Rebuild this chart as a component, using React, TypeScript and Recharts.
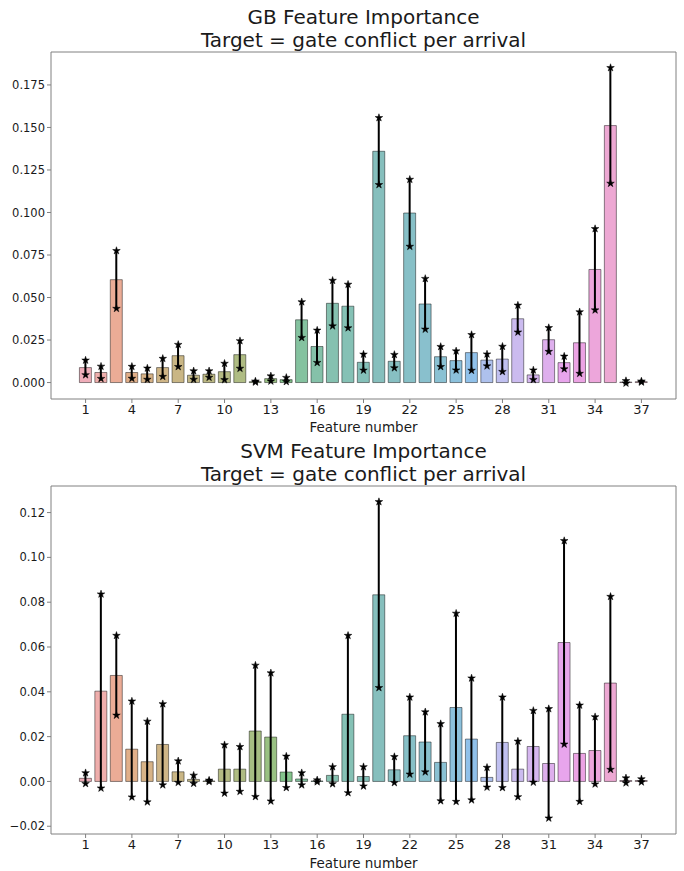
import React from 'react';
import {
  ComposedChart,
  Bar,
  Cell,
  ErrorBar,
  Scatter,
  XAxis,
  YAxis,
  ReferenceArea,
  Label,
  Symbols,
} from 'recharts';

// ---------------- data ----------------
const features = [
  1, 2, 3, 4, 5, 6, 7, 8, 9, 10, 11, 12, 13, 14, 15, 16, 17, 18, 19, 20, 21,
  22, 23, 24, 25, 26, 27, 28, 29, 30, 31, 32, 33, 34, 35, 36, 37,
];
const xTicks = [1, 4, 7, 10, 13, 16, 19, 22, 25, 28, 31, 34, 37];

const gbMean = [
  0.0088, 0.0059, 0.0605, 0.0059, 0.0051, 0.0088, 0.0158, 0.0043, 0.0049,
  0.0064, 0.0164, 0.0005, 0.0023, 0.0017, 0.0369, 0.0212, 0.0466, 0.0449,
  0.0119, 0.136, 0.0125, 0.0997, 0.0462, 0.0152, 0.0129, 0.0176, 0.0132,
  0.0138, 0.0375, 0.0045, 0.0252, 0.0117, 0.0234, 0.0665, 0.1511, 0.0003,
  0.0005,
];
const gbStd = [
  0.0043, 0.0036, 0.017, 0.0035, 0.0033, 0.0053, 0.0065, 0.0025, 0.0019,
  0.0048, 0.0081, 0.0003, 0.0015, 0.0012, 0.0105, 0.0095, 0.0134, 0.0128,
  0.0047, 0.0197, 0.0039, 0.0197, 0.0149, 0.0059, 0.0056, 0.0105, 0.0035,
  0.0074, 0.0079, 0.0028, 0.007, 0.0037, 0.0181, 0.0239, 0.034, 0.0007,
  0.0003,
];
const gbTicks = [0, 0.025, 0.05, 0.075, 0.1, 0.125, 0.15, 0.175];

const svmMean = [
  0.0014, 0.0403, 0.0473, 0.0144, 0.0088, 0.0165, 0.0043, 0.0009, 0.0002,
  0.0055, 0.0055, 0.0225, 0.0198, 0.0042, 0.0011, 0.0002, 0.0027, 0.03,
  0.0022, 0.0833, 0.0052, 0.0204, 0.0176, 0.0085, 0.033, 0.0189, 0.0018,
  0.0174, 0.0055, 0.0156, 0.008, 0.062, 0.0125, 0.0138, 0.0439, 0.0004,
  0.0004,
];
const svmStd = [
  0.0024, 0.0433, 0.0178, 0.0214, 0.018, 0.0181, 0.0048, 0.0018, 0.0003,
  0.0108, 0.01, 0.0293, 0.0286, 0.007, 0.0027, 0.0004, 0.0038, 0.0351,
  0.0043, 0.0415, 0.0058, 0.0172, 0.0134, 0.0172, 0.042, 0.0272, 0.0044,
  0.0202, 0.0124, 0.016, 0.0244, 0.0454, 0.0215, 0.015, 0.0386, 0.0011,
  0.0007,
];
const svmTicks = [-0.02, 0, 0.02, 0.04, 0.06, 0.08, 0.1, 0.12];

// ---------------- colour helpers (husl palette, desaturated) ----------------
const HM = [
  [3.240969941904521, -1.537383177570093, -0.498610760293],
  [-0.96924363628087, 1.87596750150772, 0.041555057407175],
  [0.055630079696993, -0.20397695888897, 1.056971514242878],
];
const refU = 0.19783000664283;
const refV = 0.46831999493879;
const kappa = 903.2962962;
const epsilon = 0.0088564516;

function maxChroma(L: number, H: number) {
  const sub1 = Math.pow(L + 16, 3) / 1560896;
  const sub2 = sub1 > epsilon ? sub1 : L / kappa;
  const hrad = (H / 360) * Math.PI * 2;
  let min = Infinity;
  for (let c = 0; c < 3; c++) {
    const [m1, m2, m3] = HM[c];
    for (let t = 0; t < 2; t++) {
      const top1 = (284517 * m1 - 94839 * m3) * sub2;
      const top2 =
        (838422 * m3 + 769860 * m2 + 731718 * m1) * L * sub2 - 769860 * t * L;
      const bottom = (632260 * m3 - 126452 * m2) * sub2 + 126452 * t;
      const slope = top1 / bottom;
      const intercept = top2 / bottom;
      const len = intercept / (Math.sin(hrad) - slope * Math.cos(hrad));
      if (len >= 0) min = Math.min(min, len);
    }
  }
  return min;
}

function huslToRgb(H: number, S: number, L: number) {
  const C = (maxChroma(L, H) / 100) * S;
  const hrad = (H / 360) * 2 * Math.PI;
  const U = Math.cos(hrad) * C;
  const V = Math.sin(hrad) * C;
  const varU = U / (13 * L) + refU;
  const varV = V / (13 * L) + refV;
  const Y = L <= 8 ? L / kappa : Math.pow((L + 16) / 116, 3);
  const X = 0 - (9 * Y * varU) / ((varU - 4) * varV - varU * varV);
  const Z = (9 * Y - 15 * varV * Y - varV * X) / (3 * varV);
  return HM.map((r) => r[0] * X + r[1] * Y + r[2] * Z)
    .map((c) => (c <= 0.0031308 ? 12.92 * c : 1.055 * Math.pow(c, 1 / 2.4) - 0.055))
    .map((c) => Math.min(1, Math.max(0, c)));
}

function desaturate(rgb: number[], prop: number) {
  const mx = Math.max(...rgb);
  const mn = Math.min(...rgb);
  const l = (mx + mn) / 2;
  return rgb.map((c) => l + prop * (c - l));
}

function toHex(rgb: number[]) {
  return (
    '#' +
    rgb
      .map((c) => Math.round(c * 255).toString(16).padStart(2, '0'))
      .join('')
  );
}

const palette = features.map((_, i) => {
  const h = (((i / features.length) + 0.01) % 1) * 359;
  return toHex(desaturate(huslToRgb(h, 0.9 * 99, 0.65 * 99), 0.75));
});

// ---------------- chart ----------------
const FRAME = '#808080';
const TEXT = '#1a1a1a';

const StarShape = (props: any) => (
  <Symbols cx={props.cx} cy={props.cy} type="star" size={18} fill="#000" stroke="#000" strokeWidth={0.5} />
);

function fmt(v: number, d: number) {
  return (v < 0 ? '\u2212' : '') + Math.abs(v).toFixed(d);
}

function FeatureChart(props: {
  top: number;
  height: number;
  marginTop: number;
  xAxisHeight: number;
  title1: string;
  title2: string;
  means: number[];
  stds: number[];
  yTicks: number[];
  decimals: number;
}) {
  const { top, height, marginTop, xAxisHeight, title1, title2, means, stds, yTicks, decimals } = props;
  const data = features.map((f, i) => ({
    feature: f,
    mean: means[i],
    std: stds[i],
    upper: means[i] + stds[i],
    lower: means[i] - stds[i],
  }));
  const hi = Math.max(0, ...data.map((d) => d.upper));
  const lo = Math.min(0, ...data.map((d) => d.lower));
  const pad = 0.05 * (hi - lo);
  const yDomain = [lo - pad, hi + pad];
  const xlo = features[0] - 0.4;
  const xhi = features[features.length - 1] + 0.4;
  const xpad = 0.05 * (xhi - xlo);
  const xDomain = [xlo - xpad, xhi + xpad];

  return (
    <div style={{ position: 'absolute', left: 0, top, width: 684, height }}>
      <div
        style={{
          position: 'absolute',
          left: 51,
          width: 625,
          top: marginTop - 46,
          fontSize: 20,
          lineHeight: '23px',
          textAlign: 'center',
          color: TEXT,
          whiteSpace: 'nowrap',
        }}
      >
        {title1}
        <br />
        {title2}
      </div>
      <ComposedChart
        width={684}
        height={height}
        data={data}
        margin={{ top: marginTop, right: 8, bottom: 0, left: 0 }}
      >
        <XAxis
          type="number"
          dataKey="feature"
          domain={xDomain}
          ticks={xTicks}
          interval={0}
          allowDataOverflow
          axisLine={false}
          tickLine={{ stroke: FRAME }}
          tickSize={4}
          tickMargin={2}
          height={xAxisHeight}
          tick={{ fontSize: 13, fill: TEXT }}
        >
          <Label value="Feature number" position="insideBottom" offset={3} fontSize={13.5} fill={TEXT} />
        </XAxis>
        <YAxis
          type="number"
          domain={yDomain}
          ticks={yTicks}
          interval={0}
          allowDataOverflow
          axisLine={false}
          tickLine={{ stroke: FRAME }}
          tickSize={4}
          tickMargin={2}
          width={51}
          tick={{ fontSize: 11.5, fill: TEXT }}
          tickFormatter={(v: number) => fmt(v, decimals)}
        />
        <ReferenceArea
          x1={xDomain[0]}
          x2={xDomain[1]}
          y1={yDomain[0]}
          y2={yDomain[1]}
          fill="none"
          stroke={FRAME}
          strokeWidth={1}
          ifOverflow="visible"
        />
        <Bar
          dataKey="mean"
          fillOpacity={0.65}
          stroke="#000"
          strokeOpacity={0.45}
          strokeWidth={1}
          isAnimationActive={false}
        >
          {data.map((d, i) => (
            <Cell key={i} fill={palette[i]} />
          ))}
          <ErrorBar dataKey="std" width={0} strokeWidth={2} stroke="#000" direction="y" isAnimationActive={false} />
        </Bar>
        <Scatter dataKey="upper" shape={StarShape} isAnimationActive={false} />
        <Scatter dataKey="lower" shape={StarShape} isAnimationActive={false} />
      </ComposedChart>
    </div>
  );
}

export default function App() {
  return (
    <div
      style={{
        position: 'absolute',
        left: 0,
        top: 0,
        width: 684,
        height: 871,
        background: '#fff',
        fontFamily: '"DejaVu Sans", sans-serif',
      }}
    >
      <FeatureChart
        top={0}
        height={435}
        marginTop={52}
        xAxisHeight={36}
        title1="GB Feature Importance"
        title2="Target = gate conflict per arrival"
        means={gbMean}
        stds={gbStd}
        yTicks={gbTicks}
        decimals={3}
      />
      <FeatureChart
        top={435}
        height={436}
        marginTop={51}
        xAxisHeight={37}
        title1="SVM Feature Importance"
        title2="Target = gate conflict per arrival"
        means={svmMean}
        stds={svmStd}
        yTicks={svmTicks}
        decimals={2}
      />
    </div>
  );
}
